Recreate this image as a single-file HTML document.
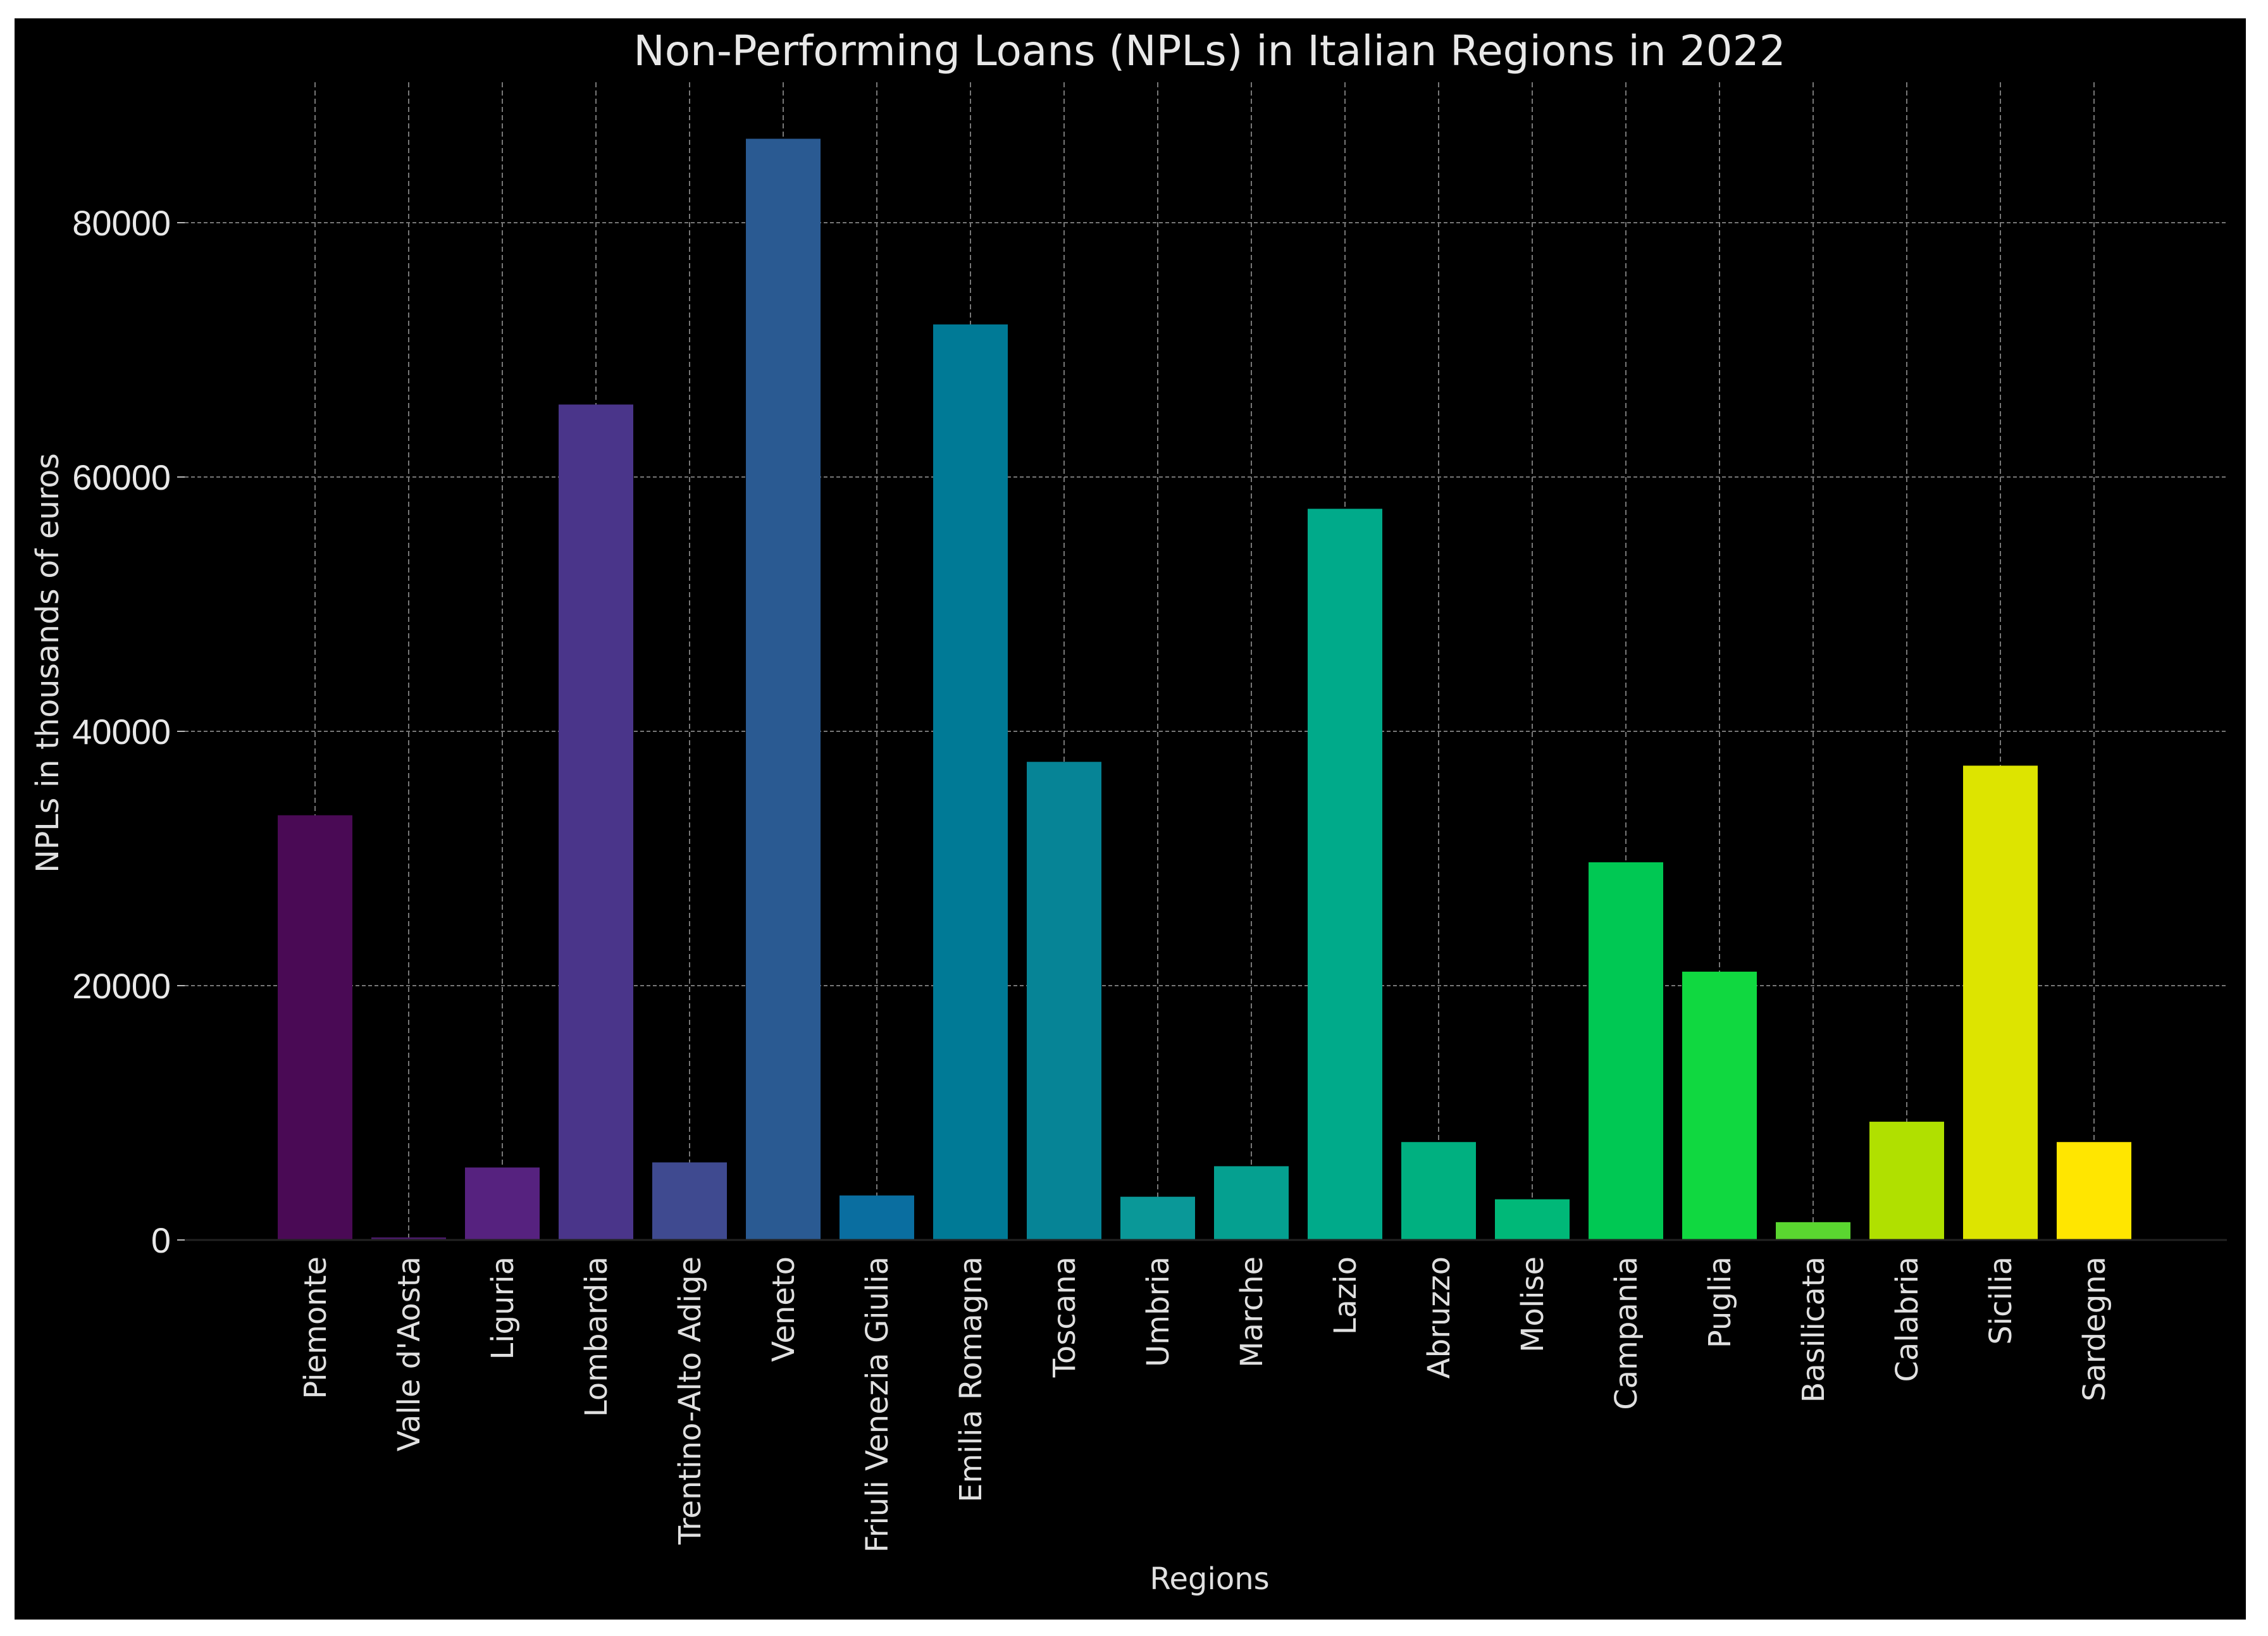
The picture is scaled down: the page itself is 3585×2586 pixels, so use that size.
<!DOCTYPE html>
<html><head><meta charset="utf-8"><style>
html,body{margin:0;padding:0;background:#fff;}
svg{display:block;font-family:"DejaVu Sans","Liberation Sans",sans-serif;}
</style></head><body>
<svg id="chart" width="3585" height="2586" viewBox="0 0 3585 2586" xmlns="http://www.w3.org/2000/svg">
<rect x="0" y="0" width="3585" height="2586" fill="#fff"/>
<rect x="23" y="29" width="3527" height="2531" fill="#000"/>
<g id="grid"></g>
<g id="bars"></g>
<g id="axes"></g>
<text x="1912" y="103" fill="#e8e8e8" font-size="66" text-anchor="middle">Non-Performing Loans (NPLs) in Italian Regions in 2022</text>
<text x="1912" y="2512" fill="#e0e0e0" font-size="48" text-anchor="middle">Regions</text>
<text x="0" y="0" transform="translate(92,1048) rotate(-90)" fill="#e0e0e0" font-size="49" text-anchor="middle">NPLs in thousands of euros</text>
</svg>
<script>
const categories = ["Piemonte","Valle d'Aosta","Liguria","Lombardia","Trentino-Alto Adige","Veneto","Friuli Venezia Giulia","Emilia Romagna","Toscana","Umbria","Marche","Lazio","Abruzzo","Molise","Campania","Puglia","Basilicata","Calabria","Sicilia","Sardegna"];
const values = [33400,200,5700,65700,6100,86600,3500,72000,37600,3400,5800,57500,7700,3200,29700,21100,1400,9300,37300,7700];
const colors = ["#4a0a55","#4a1a6a","#56227f","#4a358a","#3f4a90","#2a5a92","#0a6ea0","#007a96","#068496","#0a9898","#05a090","#00aa8a","#00b080","#00b878","#00c853","#10d840","#5ad630","#b0e000","#dde400","#ffe600"];
const yTicks = [0,20000,40000,60000,80000];
const yTickLabels = ["0","20000","40000","60000","80000"];

const NS="http://www.w3.org/2000/svg";
const plotL=292, plotR=3520, plotT=130, zeroY=1960, perUnit=402/20000;
const firstX=498, step=148, barW=118;
function xPos(i){return firstX+i*step;}
function yPos(v){return zeroY-v*perUnit;}
function mk(tag,attrs,parent){const e=document.createElementNS(NS,tag);for(const k in attrs)e.setAttribute(k,attrs[k]);parent.appendChild(e);return e;}
const grid=document.getElementById('grid'), bars=document.getElementById('bars'), axes=document.getElementById('axes');

yTicks.forEach((t,i)=>{
  const y=yPos(t);
  if(t>0){const g=mk('line',{x1:plotL,x2:plotR,y1:y,y2:y,stroke:'#777','stroke-width':2,'stroke-dasharray':'6,4'},grid);
  
  }
  const tk=mk('line',{x1:plotL-12,x2:plotL,y1:y,y2:y,stroke:'#bbb','stroke-width':2},axes);
  
  
  const lb=mk('text',{x:plotL-22,y:y+20,fill:'#e8e8e8','font-size':56,'text-anchor':'end','font-family':'Liberation Sans, sans-serif'},axes);
  lb.textContent=yTickLabels[i];
  
  
});
categories.forEach((c,i)=>{
  const x=xPos(i);
  const g=mk('line',{x1:x,x2:x,y1:plotT,y2:zeroY,stroke:'#777','stroke-width':2,'stroke-dasharray':'8,5'},grid);
  
  
  const y=yPos(values[i]);
  const b=mk('rect',{x:x-barW/2,y:y,width:barW,height:zeroY-y,fill:colors[i]},bars);
  
  
  const t=mk('text',{transform:'translate('+(x+17)+','+(zeroY+26)+') rotate(-90)',fill:'#e0e0e0','font-size':48,'text-anchor':'end'},axes);
  t.textContent=c;
  
  
});
const ax=mk('line',{x1:plotL,x2:plotR,y1:zeroY,y2:zeroY,stroke:'#222','stroke-width':3},axes);


</script>
</body></html>
